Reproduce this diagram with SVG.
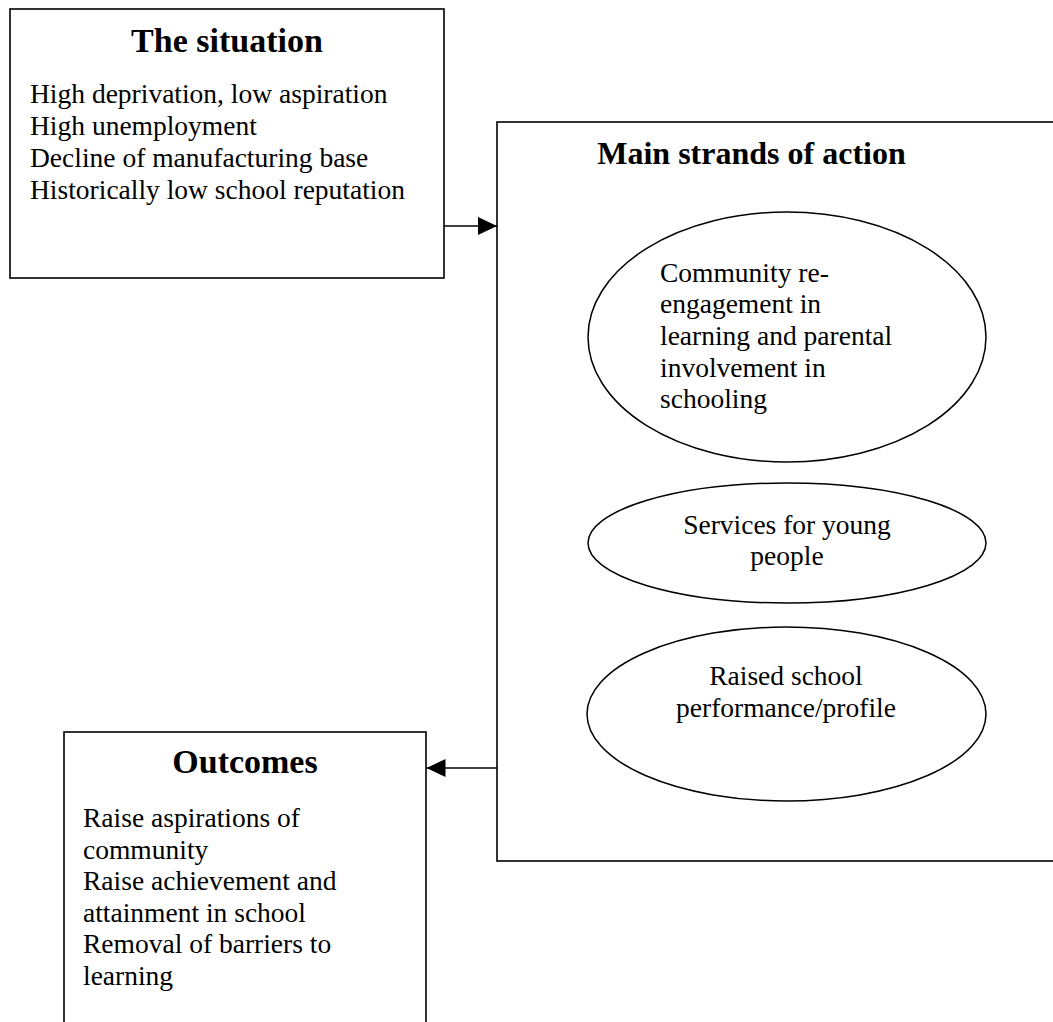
<svg xmlns="http://www.w3.org/2000/svg" width="1053" height="1022" viewBox="0 0 1053 1022">
<style>
.box{fill:#fff;stroke:#000;stroke-width:1.6}
.ell{fill:#fff;stroke:#000;stroke-width:1.5}
.title{font-family:"Liberation Serif","Times New Roman",serif;font-weight:bold;font-size:34px;fill:#000;text-anchor:middle}
.body{font-family:"Liberation Serif","Times New Roman",serif;font-size:27.5px;fill:#000}
.mid{text-anchor:middle}
.conn{stroke:#000;stroke-width:1.6;fill:none}
</style>
<defs>
<marker id="arr" viewBox="0 0 19 18" refX="19" refY="9" markerWidth="19" markerHeight="18" markerUnits="userSpaceOnUse" orient="auto">
<path d="M0,0 L19,9 L0,18 Z" fill="#000"/>
</marker>
</defs>
<rect width="1053" height="1022" fill="#fff"/>
<g id="situation">
<rect class="box" x="10" y="9" width="434" height="269"/>
<text class="title" x="227" y="52">The situation</text>
<text class="body" x="30" y="103">High deprivation, low aspiration</text>
<text class="body" x="30" y="135">High unemployment</text>
<text class="body" x="30" y="167">Decline of manufacturing base</text>
<text class="body" x="30" y="199">Historically low school reputation</text>
</g>
<g id="main-strands">
<rect class="box" x="497" y="122" width="600" height="739"/>
<text class="title" style="font-size:32px" x="751.5" y="164">Main strands of action</text>
</g>
<g id="community">
<ellipse class="ell" cx="787" cy="337" rx="199" ry="125"/>
<text class="body" x="660" y="282">Community re-</text>
<text class="body" x="660" y="313">engagement in</text>
<text class="body" x="660" y="345">learning and parental</text>
<text class="body" x="660" y="376.5">involvement in</text>
<text class="body" x="660" y="408">schooling</text>
</g>
<g id="services">
<ellipse class="ell" cx="787" cy="543" rx="199" ry="60"/>
<text class="body mid" x="787" y="533.5">Services for young</text>
<text class="body mid" x="787" y="565">people</text>
</g>
<g id="raised">
<ellipse class="ell" cx="786.5" cy="714" rx="199.5" ry="87"/>
<text class="body mid" x="786" y="685">Raised school</text>
<text class="body mid" x="786" y="716.5">performance/profile</text>
</g>
<g id="outcomes">
<rect class="box" x="64" y="732" width="362" height="310"/>
<text class="title" x="245" y="773">Outcomes</text>
<text class="body" x="83" y="827">Raise aspirations of</text>
<text class="body" x="83" y="858.5">community</text>
<text class="body" x="83" y="890">Raise achievement and</text>
<text class="body" x="83" y="921.5">attainment in school</text>
<text class="body" x="83" y="953">Removal of barriers to</text>
<text class="body" x="83" y="984.5">learning</text>
</g>
<g id="connectors">
<line class="conn" x1="444" y1="226" x2="497" y2="226" marker-end="url(#arr)"/>
<line class="conn" x1="497" y1="768" x2="426.5" y2="768" marker-end="url(#arr)"/>
</g>
</svg>
